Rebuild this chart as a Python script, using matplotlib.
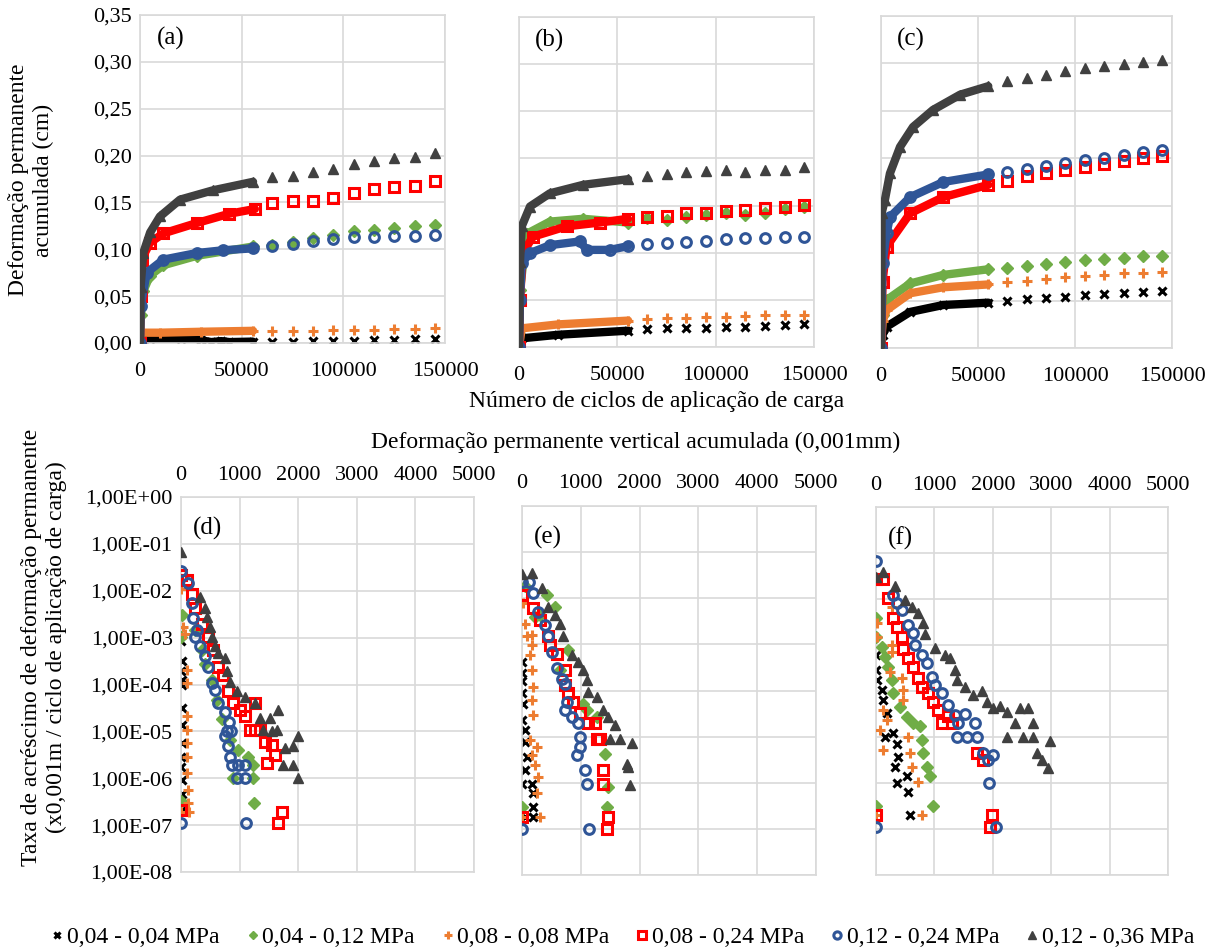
import matplotlib
matplotlib.use("Agg")
import matplotlib.pyplot as plt
from matplotlib.ticker import FixedLocator, FuncFormatter

plt.rcParams["font.family"] = ["Liberation Serif", "DejaVu Serif"]
plt.rcParams["font.size"] = 16

W, H = 1212, 949
GRID = "#D9D9D9"

LABELS = ["0,04 - 0,04 MPa", "0,04 - 0,12 MPa", "0,08 - 0,08 MPa",
          "0,08 - 0,24 MPa", "0,12 - 0,24 MPa", "0,12 - 0,36 MPa"]
COLORS = ["black", "#70AD47", "#ED7D31", "#FF0000", "#2F5597", "#404040"]
STYLES = [
    dict(marker="x", color="black", mew=2.2, ms=5.5),
    dict(marker="D", color="#70AD47", mec="#70AD47", ms=6),
    dict(marker="+", color="#ED7D31", mew=2.2, ms=7),
    dict(marker="s", mfc="none", mec="#FF0000", mew=2.2, ms=7),
    dict(marker="o", mfc="none", mec="#2F5597", mew=2.2, ms=7),
    dict(marker="^", color="#404040", mec="#404040", ms=7.5),
]

# ---- top row: accumulated permanent deformation (cm) vs load cycles ----
X_SPARSE = [65000, 75000, 85000, 95000, 105000, 115000, 125000, 135000, 145000]

# (a) dense part (first ~55000 cycles), per series in legend order
a_dense_x = [
    [0, 5000, 20000, 30000, 35000, 40000, 44000, 55400],
    [0, 400, 1600, 4900, 11500, 27900, 55600],
    [0, 1000, 10000, 30000, 55600],
    [0, 400, 800, 4900, 11500, 27900, 44000, 56500],
    [0, 400, 3300, 11500, 27900, 41000, 55600],
    [0, 300, 1600, 5000, 9800, 19700, 36000, 55600],
]
a_dense_y = [
    [0.004, 0.004, 0.004, 0.003, 0.001, 0.002, 0.001, 0.0015],
    [0.0, 0.030, 0.055, 0.072, 0.083, 0.093, 0.103],
    [0.010, 0.011, 0.011, 0.012, 0.013],
    [0.0, 0.050, 0.089, 0.107, 0.117, 0.128, 0.138, 0.143],
    [0.0, 0.040, 0.075, 0.089, 0.096, 0.099, 0.101],
    [0.0, 0.060, 0.096, 0.118, 0.135, 0.153, 0.163, 0.172],
]
a_sparse_y = [
    [0.0015, 0.0015, 0.002, 0.002, 0.002, 0.003, 0.003, 0.004, 0.004],
    [0.105, 0.108, 0.112, 0.115, 0.119, 0.121, 0.123, 0.125, 0.126],
    [0.013, 0.013, 0.013, 0.014, 0.014, 0.014, 0.015, 0.015, 0.016],
    [0.149, 0.151, 0.151, 0.155, 0.160, 0.164, 0.166, 0.167, 0.173],
    [0.1035, 0.1056, 0.109, 0.111, 0.113, 0.113, 0.114, 0.114, 0.115],
    [0.177, 0.178, 0.183, 0.186, 0.191, 0.194, 0.197, 0.199, 0.203],
]

# (b)
b_dense_x = [
    [0, 1400, 20000, 55500],
    [0, 500, 3900, 15700, 32600, 55500],
    [0, 1400, 20000, 55500],
    [0, 500, 2000, 7100, 24200, 41100, 55400],
    [0, 500, 1400, 5600, 15700, 31000, 34400, 46200, 55500],
    [0, 500, 1400, 5600, 15700, 32600, 55500],
]
b_dense_y = [
    [0.0, 0.0092, 0.013, 0.0173],
    [0.0, 0.060, 0.120, 0.133, 0.136, 0.132],
    [0.0, 0.0198, 0.024, 0.028],
    [0.0, 0.050, 0.100, 0.117, 0.128, 0.132, 0.136],
    [0.0, 0.050, 0.089, 0.0996, 0.108, 0.112, 0.103, 0.103, 0.107],
    [0.0, 0.090, 0.128, 0.149, 0.163, 0.172, 0.178],
]
b_sparse_y = [
    [0.0187, 0.0198, 0.0198, 0.0198, 0.0216, 0.0216, 0.0223, 0.0233, 0.0244],
    [0.1365, 0.1347, 0.1382, 0.140, 0.1418, 0.140, 0.1425, 0.146, 0.148],
    [0.0294, 0.0304, 0.0304, 0.0315, 0.0321, 0.0329, 0.0339, 0.0339, 0.0339],
    [0.1376, 0.139, 0.1418, 0.1425, 0.1446, 0.1453, 0.1471, 0.1482, 0.1506],
    [0.109, 0.1106, 0.1117, 0.1127, 0.1142, 0.1153, 0.1153, 0.1163, 0.117],
    [0.181, 0.184, 0.186, 0.187, 0.188, 0.186, 0.188, 0.188, 0.191],
]

# (c)
c_dense_x = [
    [0, 800, 2900, 15000, 32000, 55300],
    [0, 800, 2900, 15000, 32000, 55300],
    [0, 800, 2900, 15000, 32000, 55300],
    [0, 800, 2900, 15000, 32000, 55300],
    [0, 800, 2900, 4600, 15000, 32100, 55300],
    [0, 300, 2000, 4600, 9800, 16500, 26800, 40700, 55300],
]
c_dense_y = [
    [0.0, 0.014, 0.0225, 0.038, 0.0453, 0.0478],
    [0.0, 0.035, 0.0506, 0.068, 0.077, 0.083],
    [0.0, 0.028, 0.040, 0.0577, 0.064, 0.067],
    [0.0, 0.070, 0.107, 0.142, 0.159, 0.172],
    [0.0, 0.090, 0.121, 0.138, 0.159, 0.175, 0.183],
    [0.0, 0.142, 0.156, 0.184, 0.212, 0.233, 0.251, 0.267, 0.276],
]
c_sparse_y = [
    [0.0495, 0.0513, 0.0524, 0.0541, 0.0559, 0.0566, 0.0577, 0.059, 0.060],
    [0.0846, 0.0864, 0.0882, 0.0903, 0.0927, 0.0938, 0.0952, 0.097, 0.097],
    [0.0699, 0.071, 0.0727, 0.0745, 0.0759, 0.077, 0.0787, 0.0794, 0.0805],
    [0.176, 0.181, 0.185, 0.188, 0.191, 0.194, 0.197, 0.200, 0.202],
    [0.186, 0.189, 0.192, 0.195, 0.198, 0.200, 0.203, 0.207, 0.209],
    [0.281, 0.285, 0.288, 0.292, 0.295, 0.297, 0.299, 0.302, 0.304],
]

TOP_XTICKS = [0, 50000, 100000, 150000]
TOP_YTICKS = [0.0, 0.05, 0.10, 0.15, 0.20, 0.25, 0.30, 0.35]

# ---- bottom row: deformation rate vs accumulated deformation (0,001mm) ----
d_pts = [
    [(0, 8.3e-4), (11, 3.1e-4), (0, 1.9e-4), (11, 1.26e-4), (11, 1.0e-4), (23, 3.1e-5),
     (11, 1.4e-5), (11, 5.6e-6), (0, 2.9e-6), (0, 1.7e-6), (11, 9.1e-7), (11, 4.7e-7), (11, 2.1e-7)],
    [(11, 3.0e-3), (0, 1.05e-3), (239, 1.45e-3), (353, 5.5e-4), (410, 2.8e-4), (523, 1.26e-4),
     (609, 4.7e-5), (694, 1.8e-5), (836, 6.6e-6), (978, 4.1e-6), (1149, 2.9e-6), (1234, 1.95e-6),
     (893, 1.0e-6), (1234, 1.0e-6), (1246, 3.0e-7), (0, 3.2e-7)],
    [(0, 1.1e-2), (40, 1.7e-3), (68, 1.2e-3), (97, 2.0e-4), (97, 1.07e-4), (108, 2.1e-5),
     (100, 1.07e-5), (100, 5.6e-6), (108, 2.9e-6), (108, 1.3e-6), (125, 5.6e-7), (125, 3.0e-7),
     (140, 1.95e-7), (0, 1.95e-7)],
    [(0, 2.2e-2), (108, 1.7e-2), (182, 8.5e-3), (239, 4.3e-3), (353, 2.0e-3), (467, 1.05e-3),
     (552, 5.5e-4), (637, 2.4e-4), (722, 1.6e-4), (808, 7.1e-5), (893, 4.0e-5), (1007, 2.9e-5),
     (1092, 2.1e-5), (1263, 4.0e-5), (1177, 1.07e-5), (1263, 1.07e-5), (1348, 1.07e-5),
     (1433, 6.0e-6), (1547, 5.1e-6), (1604, 3.2e-6), (1462, 2.1e-6), (1718, 1.95e-7),
     (1661, 1.1e-7), (0, 2.1e-7)],
    [(0, 2.6e-2), (125, 1.45e-2), (182, 5.4e-3), (211, 2.6e-3), (268, 1.45e-3), (239, 1.05e-3),
     (324, 6.5e-4), (410, 4.0e-4), (467, 2.4e-4), (523, 1.07e-4), (580, 7.6e-5), (637, 4.0e-5),
     (751, 2.6e-5), (820, 1.6e-5), (780, 1.0e-5), (850, 1.0e-5), (751, 7.8e-6), (808, 4.8e-6),
     (836, 2.9e-6), (865, 1.95e-6), (980, 1.95e-6), (1092, 1.95e-6), (950, 1.0e-6),
     (1092, 1.0e-6), (1109, 1.1e-7), (0, 1.1e-7)],
    [(0, 6.8e-2), (324, 7.5e-3), (410, 4.3e-3), (438, 2.8e-3), (495, 1.7e-3), (523, 1.05e-3),
     (580, 6.5e-4), (637, 4.7e-4), (751, 3.6e-4), (780, 1.9e-4), (836, 1.15e-4), (950, 7.1e-5),
     (1092, 5.5e-5), (1263, 4.0e-5), (1348, 1.9e-5), (1519, 1.9e-5), (1661, 2.9e-5),
     (1405, 1.05e-5), (1550, 1.0e-5), (1632, 1.05e-5), (1775, 4.4e-6), (1917, 4.8e-6),
     (2002, 7.8e-6), (1747, 1.95e-6), (1917, 1.95e-6), (2002, 1.0e-6)],
]

e_pts = [
    [(0, 4.2e-4), (0, 2.4e-4), (0, 1.6e-4), (0, 8.9e-5), (23, 5.2e-5), (0, 2.3e-5), (51, 1.4e-5),
     (51, 7.8e-6), (80, 3.6e-6), (51, 1.9e-6), (0, 9.5e-7), (165, 9.5e-7), (193, 5.9e-7),
     (193, 3.0e-7), (51, 1.8e-7), (193, 1.8e-7)],
    [(57, 1.8e-2), (420, 1.2e-2), (561, 6.6e-3), (306, 4.4e-3), (221, 4.0e-3), (788, 7.6e-4),
     (646, 2.75e-4), (1043, 5.2e-5), (1100, 3.7e-5), (1270, 2.7e-5), (1412, 4.3e-6),
     (1468, 8.1e-7), (0, 3.0e-7), (1451, 3.0e-7)],
    [(23, 7.8e-3), (51, 2.8e-3), (80, 1.5e-3), (165, 1.6e-3), (165, 9.5e-4), (136, 5.9e-4),
     (165, 2.75e-4), (193, 1.2e-4), (165, 6.3e-5), (193, 3.0e-5), (136, 8.3e-6), (250, 6.0e-6),
     (165, 4.0e-6), (221, 2.4e-6), (278, 1.35e-6), (250, 5.9e-7), (306, 1.8e-7), (0, 1.8e-7)],
    [(0, 1.2e-2), (193, 6.0e-3), (306, 3.4e-3), (447, 1.5e-3), (476, 9.5e-4), (590, 6.3e-4),
     (731, 2.75e-4), (731, 1.3e-4), (788, 8.7e-5), (873, 5.6e-5), (986, 3.2e-5), (1128, 1.95e-5),
     (1241, 1.95e-5), (1270, 9.1e-6), (1327, 9.1e-6), (1383, 1.9e-6), (1383, 9.5e-7),
     (0, 1.8e-7), (1468, 1.8e-7), (1451, 1.0e-7)],
    [(0, 2.3e-2), (113, 2.3e-2), (193, 1.3e-2), (278, 5.1e-3), (391, 2.6e-3), (447, 1.5e-3),
     (505, 6.9e-4), (590, 3.0e-4), (675, 1.8e-4), (731, 1.4e-4), (760, 5.6e-5), (731, 3.7e-5),
     (845, 2.7e-5), (958, 1.95e-5), (986, 1.0e-5), (986, 6.0e-6), (930, 4.0e-6), (1071, 1.9e-6),
     (1100, 9.5e-7), (0, 1.0e-7), (1145, 1.0e-7)],
    [(0, 3.35e-2), (165, 3.5e-2), (335, 1.7e-2), (447, 6.6e-3), (561, 4.4e-3), (646, 2.8e-3),
     (703, 1.5e-3), (845, 5.9e-4), (958, 4.2e-4), (1043, 2.75e-4), (1100, 1.7e-4), (1128, 9.3e-5),
     (1270, 7.2e-5), (1383, 3.7e-5), (1468, 2.7e-5), (1582, 1.8e-5), (1497, 9.1e-6),
     (1667, 9.1e-6), (1866, 7.1e-6), (1781, 2.6e-6), (1810, 2.2e-6), (1837, 8.9e-7)],
]

f_pts = [
    [(0, 6.0e-4), (0, 2.9e-4), (11, 1.7e-4), (97, 1.05e-4), (125, 6.3e-5), (183, 3.3e-5),
     (154, 1.0e-5), (297, 1.2e-5), (354, 7.2e-6), (382, 3.7e-6), (325, 2.2e-6), (354, 1.0e-6),
     (525, 1.4e-6), (553, 6.5e-7), (582, 2.0e-7)],
    [(0, 3.8e-3), (0, 1.5e-3), (97, 9.1e-4), (154, 5.5e-4), (211, 3.4e-4), (268, 1.7e-4),
     (297, 8.9e-5), (411, 4.6e-5), (525, 2.75e-5), (639, 2.0e-5), (753, 1.7e-5), (782, 8.5e-6),
     (811, 4.5e-6), (868, 2.2e-6), (925, 1.4e-6), (970, 3.2e-7), (0, 3.2e-7)],
    [(11, 3.0e-3), (11, 1.5e-3), (268, 6.8e-3), (268, 1.0e-3), (268, 7.2e-4), (240, 2.6e-4),
     (440, 1.9e-4), (468, 1.05e-4), (468, 6.3e-5), (125, 3.9e-5), (183, 2.3e-5), (68, 1.4e-5),
     (125, 5.2e-6), (553, 1.0e-5), (582, 4.5e-6), (611, 2.2e-6), (725, 1.07e-6), (782, 2.0e-7),
     (0, 2.0e-7)],
    [(0, 2.7e-2), (125, 2.7e-2), (211, 1.05e-2), (297, 3.8e-3), (354, 2.5e-3), (440, 1.5e-3),
     (468, 8.1e-4), (553, 5.1e-4), (639, 3.4e-4), (725, 1.9e-4), (782, 1.2e-4), (896, 8.9e-5),
     (982, 5.9e-5), (1067, 3.9e-5), (1125, 2.0e-5), (1296, 2.0e-5), (1239, 2.8e-5),
     (1724, 4.5e-6), (1838, 3.2e-6), (1981, 2.0e-7), (1952, 1.1e-7), (0, 2.0e-7)],
    [(0, 6.8e-2), (297, 1.2e-2), (354, 8.1e-3), (440, 5.8e-3), (553, 2.7e-3), (639, 1.8e-3),
     (668, 1.0e-3), (782, 6.0e-4), (868, 4.0e-4), (953, 2.0e-4), (1010, 1.35e-4), (1125, 9.1e-5),
     (1239, 5.0e-5), (1353, 3.0e-5), (1524, 3.2e-5), (1410, 2.0e-5), (1695, 2.0e-5),
     (1381, 1.0e-5), (1552, 1.0e-5), (1724, 1.0e-5), (1838, 4.4e-6), (1923, 3.2e-6),
     (2009, 4.1e-6), (1940, 1.0e-6), (0, 1.1e-7), (2055, 1.1e-7)],
    [(0, 3.0e-2), (125, 3.9e-2), (325, 1.9e-2), (497, 9.5e-3), (611, 6.8e-3), (725, 4.9e-3),
     (810, 3.0e-3), (839, 1.7e-3), (1010, 8.5e-4), (1182, 6.0e-4), (1267, 5.1e-4), (1353, 2.9e-4),
     (1381, 1.7e-4), (1524, 1.2e-4), (1666, 8.1e-5), (1809, 9.8e-5), (1895, 5.9e-5),
     (2009, 4.2e-5), (2123, 4.8e-5), (2237, 3.5e-5), (2466, 4.2e-5), (2608, 4.2e-5),
     (2380, 2.0e-5), (2694, 2.0e-5), (2237, 1.0e-5), (2522, 1.0e-5), (2694, 1.0e-5),
     (2979, 8.3e-6), (2751, 4.4e-6), (2836, 3.2e-6), (2950, 2.1e-6)],
]

BOT_XTICKS = [0, 1000, 2000, 3000, 4000, 5000]
BOT_YTICKS = [1e-8, 1e-7, 1e-6, 1e-5, 1e-4, 1e-3, 1e-2, 1e-1, 1e0]


def px_axes(fig, left, right, top, bottom):
    return fig.add_axes([left / W, 1 - bottom / H, (right - left) / W, (bottom - top) / H])


def style_axes(ax):
    ax.grid(True, color=GRID, lw=1.2)
    ax.set_axisbelow(True)
    for s in ax.spines.values():
        s.set_color(GRID)
        s.set_linewidth(1.2)
    ax.tick_params(length=0, labelsize=16)


def comma_fmt(v, pos):
    return f"{v:.2f}".replace(".", ",")


def sci_fmt(v, pos):
    return f"{v:.2E}".replace(".", ",")


def top_panel(ax, dense_x, dense_y, sparse_y, tag, show_y):
    for i in range(6):
        dense_style = {k: v for k, v in STYLES[i].items() if k != "color"}
        ax.plot(dense_x[i], dense_y[i], color=COLORS[i], lw=6, ls="-",
                solid_capstyle="round", zorder=2 + i, **dense_style)
        xs = X_SPARSE if len(sparse_y[i]) == 9 else [55000] + X_SPARSE
        ax.plot(xs, sparse_y[i], ls="none", zorder=2 + i, **STYLES[i])
    ax.set_xlim(0, 150000)
    ax.set_ylim(0, 0.35)
    ax.xaxis.set_major_locator(FixedLocator(TOP_XTICKS))
    ax.yaxis.set_major_locator(FixedLocator(TOP_YTICKS))
    ax.yaxis.set_major_formatter(FuncFormatter(comma_fmt))
    style_axes(ax)
    ax.tick_params(axis="x", pad=14)
    ax.tick_params(axis="y", pad=6)
    if not show_y:
        ax.set_yticklabels([])
    ax.text(0.055, 0.93, tag, transform=ax.transAxes, fontsize=18, va="center")


def bottom_panel(ax, pts, tag, show_y):
    for i in range(6):
        xs, ys = zip(*pts[i])
        ax.plot(xs, ys, ls="none", zorder=2 + i, **STYLES[i])
    ax.set_yscale("log")
    ax.set_xlim(0, 5000)
    ax.set_ylim(1e-8, 1)
    ax.xaxis.tick_top()
    ax.xaxis.set_major_locator(FixedLocator(BOT_XTICKS))
    ax.yaxis.set_major_locator(FixedLocator(BOT_YTICKS))
    ax.yaxis.set_minor_locator(FixedLocator([]))
    ax.yaxis.set_major_formatter(FuncFormatter(sci_fmt))
    style_axes(ax)
    ax.tick_params(axis="x", pad=9)
    ax.tick_params(axis="y", pad=6)
    if not show_y:
        ax.set_yticklabels([])
    ax.text(0.04, 0.915, tag, transform=ax.transAxes, fontsize=18, va="center")


fig = plt.figure(figsize=(W / 100, H / 100), dpi=100)

ax_a = px_axes(fig, 140, 445, 15, 343)
ax_b = px_axes(fig, 519, 814, 17, 347)
ax_c = px_axes(fig, 881, 1172, 16, 348)
top_panel(ax_a, a_dense_x, a_dense_y, a_sparse_y, "(a)", True)
top_panel(ax_b, b_dense_x, b_dense_y, b_sparse_y, "(b)", False)
top_panel(ax_c, c_dense_x, c_dense_y, c_sparse_y, "(c)", False)

ax_d = px_axes(fig, 181, 474, 497, 872)
ax_e = px_axes(fig, 522, 816, 506, 875)
ax_f = px_axes(fig, 876, 1168, 507, 875)
bottom_panel(ax_d, d_pts, "(d)", True)
bottom_panel(ax_e, e_pts, "(e)", False)
bottom_panel(ax_f, f_pts, "(f)", False)

fig.text(31 / W, 1 - 180 / H, "Deformação permanente\nacumulada (cm)", rotation=90,
         ha="center", va="center", fontsize=17, linespacing=1.2)
fig.text(657 / W, 1 - 401 / H, "Número de ciclos de aplicação de carga",
         ha="center", va="center", fontsize=17)
fig.text(636 / W, 1 - 442 / H, "Deformação permanente vertical acumulada (0,001mm)",
         ha="center", va="center", fontsize=17)
fig.text(44 / W, 1 - 647 / H,
         "Taxa de acréscimo de deformação permanente\n(x0,001m / ciclo de aplicação de carga)",
         rotation=90, ha="center", va="center", fontsize=17, linespacing=1.2)

handles = [plt.Line2D([], [], ls="none", **STYLES[i]) for i in range(6)]
fig.legend(handles, LABELS, loc="center", bbox_to_anchor=(621 / W, 1 - 937 / H), ncol=6,
           frameon=False, fontsize=17, handletextpad=0.0, columnspacing=1.0,
           handlelength=0.8, markerscale=0.75, borderpad=0.0)

fig.savefig("out.png", dpi=100)
